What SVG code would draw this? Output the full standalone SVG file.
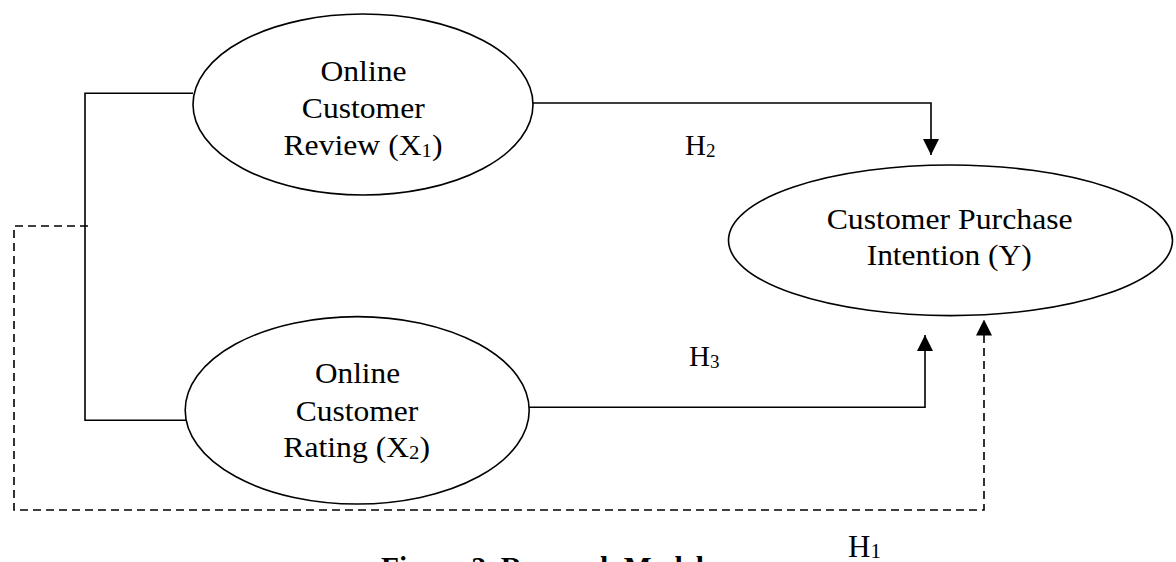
<svg xmlns="http://www.w3.org/2000/svg" width="1176" height="562" viewBox="0 0 1176 562">
  <style>
    .node ellipse { fill: #ffffff; stroke: #000000; stroke-width: 1.6; }
    .lbl { font-family: "Liberation Serif", "Times New Roman", serif; font-size: 29px; fill: #000000; text-anchor: middle; }
    .hyp { font-family: "Liberation Serif", "Times New Roman", serif; font-size: 29px; fill: #000000; }
    .sub { font-size: 19px; }
    .cap { font-family: "Liberation Serif", "Times New Roman", serif; font-size: 29px; font-weight: bold; fill: #000000; }
    .wire { fill: none; stroke: #000000; stroke-width: 1.6; }
    .dash { stroke-dasharray: 8 5; }
  </style>
  <defs>
    <marker id="arrow" viewBox="0 0 16 16" refX="16" refY="8" markerWidth="16" markerHeight="16" markerUnits="userSpaceOnUse" orient="auto">
      <path d="M0,0 L16,8 L0,16 z" fill="#000000"/>
    </marker>
  </defs>
  <rect width="1176" height="562" fill="#ffffff"/>

  <!-- connectors -->
  <g id="connectors">
    <!-- link between the two independent variables -->
    <path class="wire" d="M193,93.3 H85 V420.3 H186"/>
    <!-- H1: joint effect (dashed) -->
    <path class="wire dash" d="M88,226 H14 V510 H984 V319.5" marker-end="url(#arrow)"/>
    <!-- H2: review to purchase intention -->
    <path class="wire" d="M533,103 H931 V155" marker-end="url(#arrow)"/>
    <!-- H3: rating to purchase intention -->
    <path class="wire" d="M529,407.3 H925 V335" marker-end="url(#arrow)"/>
  </g>

  <g id="node-x1" class="node">
    <ellipse cx="363" cy="104.5" rx="170" ry="90.5"/>
    <text class="lbl" x="363.5" y="81" textLength="86" lengthAdjust="spacingAndGlyphs">Online</text>
    <text class="lbl" x="363.3" y="118" textLength="123" lengthAdjust="spacingAndGlyphs">Customer</text>
    <text class="lbl" x="363" y="155" textLength="159" lengthAdjust="spacingAndGlyphs">Review (X<tspan class="sub" dy="2">1</tspan><tspan dy="-2">)</tspan></text>
  </g>

  <g id="node-x2" class="node">
    <ellipse cx="357.2" cy="410.3" rx="172" ry="93.7"/>
    <text class="lbl" x="357.5" y="383.3" textLength="85" lengthAdjust="spacingAndGlyphs">Online</text>
    <text class="lbl" x="357" y="420.7" textLength="122.7" lengthAdjust="spacingAndGlyphs">Customer</text>
    <text class="lbl" x="356.7" y="456.7" textLength="146.7" lengthAdjust="spacingAndGlyphs">Rating (X<tspan class="sub" dy="2">2</tspan><tspan dy="-2">)</tspan></text>
  </g>

  <g id="node-y" class="node">
    <ellipse cx="950.5" cy="240.3" rx="222" ry="75.3"/>
    <text class="lbl" x="949.7" y="229" textLength="246" lengthAdjust="spacingAndGlyphs">Customer Purchase</text>
    <text class="lbl" x="949.2" y="265" textLength="165" lengthAdjust="spacingAndGlyphs">Intention (Y)</text>
  </g>

  <g id="labels">
    <text class="hyp" x="685" y="155">H<tspan class="sub" dy="2">2</tspan></text>
    <text class="hyp" x="689" y="366">H<tspan class="sub" dy="2">3</tspan></text>
    <text class="hyp" x="848" y="557" style="font-size:31px">H<tspan class="sub" style="font-size:21px" dy="1">1</tspan></text>
    <text class="cap" x="381" y="577" textLength="323" lengthAdjust="spacingAndGlyphs">Figure 2. Research Model</text>
  </g>
</svg>
